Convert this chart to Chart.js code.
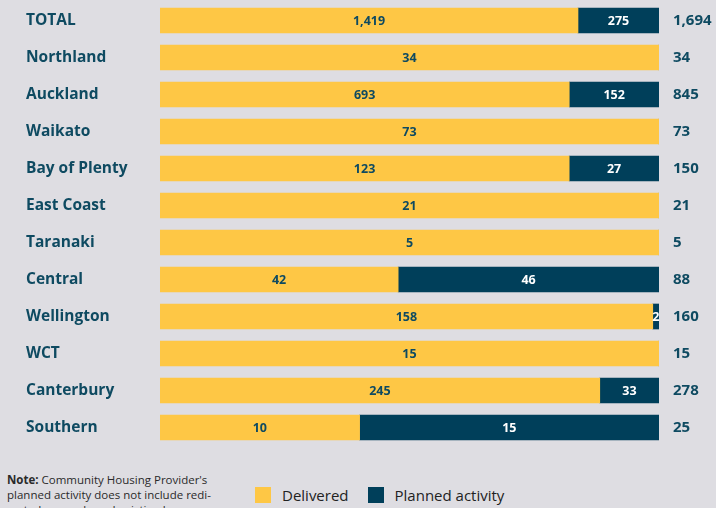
<!DOCTYPE html>
<html>
<head>
<meta charset="utf-8">
<script src="https://cdn.jsdelivr.net/npm/chart.js@4.4.1/dist/chart.umd.min.js"></script>
<style>
  html, body { margin: 0; padding: 0; background: #dedde2; }
  .master { position: relative; width: 716px; height: 508px; overflow: hidden; font-family: 'Open Sans', sans-serif; }
  #chartBox { position: absolute; left: 0; top: -21px; width: 716px; height: 490px; }
  #note { position: absolute; left: 7px; top: 472px; width: 240px; font-size: 11.5px; line-height: 15px; color: #2a2a2a; }
  #legend { position: absolute; left: 255px; top: 485px; display: flex; align-items: center; font-size: 15px; color: #222; }
  #legend span.box { display: inline-block; width: 16px; height: 16px; margin-right: 11px; }
  #legend span.item { display: flex; align-items: center; margin-right: 19px; }
</style>
</head>
<body>
<div class="master">
  <div id="chartBox"><canvas id="myChart"></canvas></div>
  <div id="note"><b>Note:</b> Community Housing Provider's planned activity does not include redi- rected or purchased existing homes.</div>
  <div id="legend"></div>
</div>
<script>
// regions and counts
const regions = ['TOTAL', 'Northland', 'Auckland', 'Waikato', 'Bay of Plenty', 'East Coast',
  'Taranaki', 'Central', 'Wellington', 'WCT', 'Canterbury', 'Southern'];
const delivered = [1419, 34, 693, 73, 123, 21, 5, 42, 158, 15, 245, 10];
const planned = [275, 0, 152, 0, 27, 0, 0, 46, 2, 0, 33, 15];
const totals = [1694, 34, 845, 73, 150, 21, 5, 88, 160, 15, 278, 25];

const yellow = '#fec745';
const navy = '#003f5a';
const labelColor = '#0e4a61';

// share of each bar (100% stacked)
const deliveredPct = delivered.map((d, i) => d / (d + planned[i]) * 100);
const plannedPct = planned.map((p, i) => p / (delivered[i] + planned[i]) * 100);

const fmt = n => n.toLocaleString('en-US');

// writes the count in the middle of every segment
const segmentLabels = {
  id: 'segmentLabels',
  afterDatasetsDraw(chart) {
    const ctx = chart.ctx;
    ctx.save();
    ctx.font = '700 12.5px "Open Sans"';
    ctx.textAlign = 'center';
    ctx.textBaseline = 'middle';
    chart.data.datasets.forEach((ds, di) => {
      const meta = chart.getDatasetMeta(di);
      meta.data.forEach((bar, i) => {
        const count = ds.counts[i];
        if (!count) return;
        const x = (bar.x + bar.base) / 2;
        ctx.fillStyle = di === 0 ? labelColor : '#ffffff';
        ctx.fillText(fmt(count), x, bar.y + 1);
      });
    });
    ctx.restore();
  }
};

const ctx = document.getElementById('myChart').getContext('2d');
new Chart(ctx, {
  type: 'bar',
  data: {
    labels: regions,
    datasets: [
      { label: 'Delivered', data: deliveredPct, counts: delivered, backgroundColor: yellow, barThickness: 25 },
      { label: 'Planned activity', data: plannedPct, counts: planned, backgroundColor: navy, barThickness: 25 }
    ]
  },
  options: {
    indexAxis: 'y',
    responsive: true,
    maintainAspectRatio: false,
    animation: false,
    layout: { padding: { left: 26, right: 0, top: 1.5, bottom: 3.5 } },
    plugins: { legend: { display: false }, tooltip: { enabled: false } },
    scales: {
      x: { stacked: true, min: 0, max: 100, display: false },
      y: {
        stacked: true,
        position: 'left',
        grid: { display: false, drawTicks: false },
        border: { display: false },
        ticks: { crossAlign: 'far', color: labelColor, font: { family: 'Open Sans', weight: '700', size: 15.5 }, padding: 0 },
        afterFit(scale) { scale.width = 134; }
      },
      y2: {
        type: 'category',
        labels: totals.map(fmt),
        position: 'right',
        offset: true,
        grid: { display: false, drawTicks: false },
        border: { display: false },
        ticks: { crossAlign: 'near', color: labelColor, font: { family: 'Open Sans', weight: '700', size: 15 }, padding: 14 },
        afterFit(scale) { scale.width = 57; }
      }
    }
  },
  plugins: [segmentLabels]
});

// legend below the chart
const legend = document.getElementById('legend');
[['Delivered', yellow], ['Planned activity', navy]].forEach(([name, color]) => {
  const item = document.createElement('span');
  item.className = 'item';
  item.innerHTML = `<span class="box" style="background:${color}"></span>${name}`;
  legend.appendChild(item);
});
</script>
</body>
</html>
